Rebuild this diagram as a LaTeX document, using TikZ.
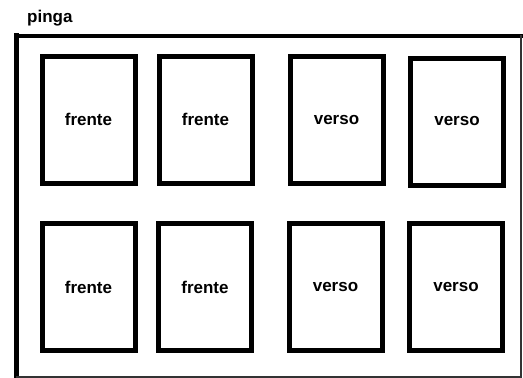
\documentclass[tikz,border=0pt]{standalone}
\usepackage{fontspec}
\setmainfont{Liberation Sans}
\usepackage{tikz}
\usetikzlibrary{positioning}

\begin{document}
\begin{tikzpicture}[x=1pt, y=-1pt,
    every node/.style={font=\bfseries\fontsize{17}{20}\selectfont},
    card/.style={draw=black, line width=5pt, minimum width=93pt,
                 minimum height=127pt, inner sep=0pt, align=center},
    sheet/.style={draw=black, line cap=rect}]
  \useasboundingbox (0,0) rectangle (523,378);
  % title and sheet border
  \node[anchor=base west, inner sep=0pt] (title) at (27,22.5) {pinga};
  \coordinate (tl) at (16.5,35.5);
  \coordinate (tr) at (521,35.5);
  \coordinate (bl) at (16.5,377);
  \coordinate (br) at (521,377);
  \draw[sheet, line width=4pt] (tl) -- (tr);
  \draw[sheet, line width=5pt] (tl) -- (bl);
  \draw[sheet, line width=1.2pt, draw=black!80] (tr) -- (br) -- (bl);
  % upper row
  \node[card] (f1) at (88.5,119.5) {frente};
  \node[card] (f2) at (205.5,119.5) {frente};
  \node[card] (v1) at (336.5,120) {verso};
  \node[card] (v2) at (457,121.5) {verso};
  % lower row
  \node[card] (f3) at (88.5,287) {frente};
  \node[card] (f4) at (205,287) {frente};
  \node[card] (v3) at (335.5,287) {verso};
  \node[card] (v4) at (456,287) {verso};
\end{tikzpicture}
\end{document}
